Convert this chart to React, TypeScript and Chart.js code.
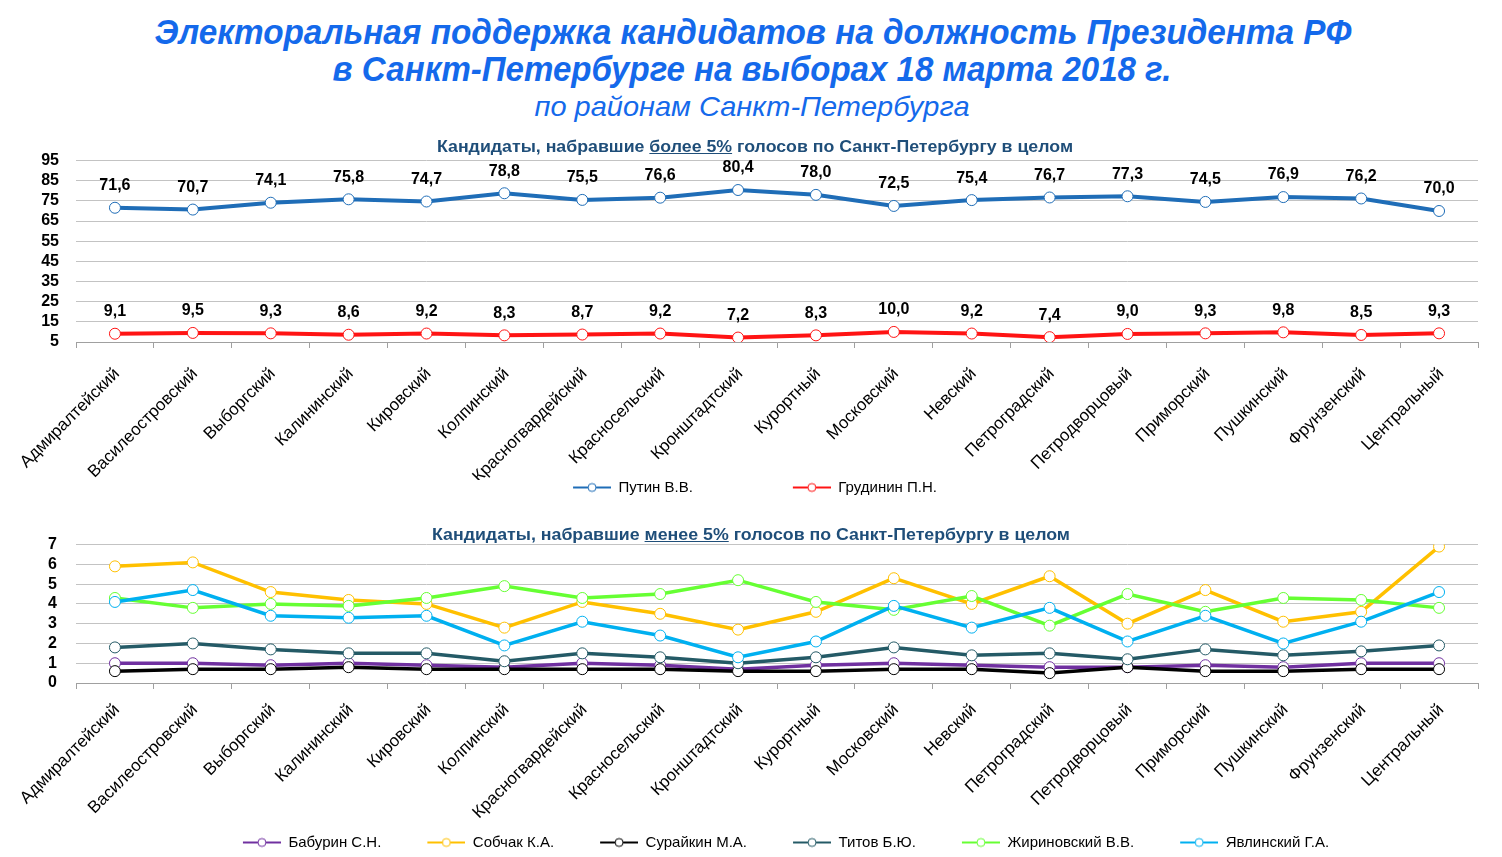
import { useEffect, useRef } from "react";
import { Chart, registerables, type ChartConfiguration, type Plugin } from "chart.js";

Chart.register(...registerables);

const districts = [
  "Адмиралтейский", "Василеостровский", "Выборгский", "Калининский", "Кировский",
  "Колпинский", "Красногвардейский", "Красносельский", "Кронштадтский", "Курортный",
  "Московский", "Невский", "Петроградский", "Петродворцовый", "Приморский",
  "Пушкинский", "Фрунзенский", "Центральный",
];

// кандидаты > 5%
const putin = [71.6, 70.7, 74.1, 75.8, 74.7, 78.8, 75.5, 76.6, 80.4, 78.0, 72.5, 75.4, 76.7, 77.3, 74.5, 76.9, 76.2, 70.0];
const grudinin = [9.1, 9.5, 9.3, 8.6, 9.2, 8.3, 8.7, 9.2, 7.2, 8.3, 10.0, 9.2, 7.4, 9.0, 9.3, 9.8, 8.5, 9.3];

// кандидаты < 5%
const baburin = [1.0, 1.0, 0.9, 1.0, 0.9, 0.8, 1.0, 0.9, 0.7, 0.9, 1.0, 0.9, 0.8, 0.8, 0.9, 0.8, 1.0, 1.0];
const sobchak = [5.9, 6.1, 4.6, 4.2, 4.0, 2.8, 4.1, 3.5, 2.7, 3.6, 5.3, 4.0, 5.4, 3.0, 4.7, 3.1, 3.6, 6.9];
const suraykin = [0.6, 0.7, 0.7, 0.8, 0.7, 0.7, 0.7, 0.7, 0.6, 0.6, 0.7, 0.7, 0.5, 0.8, 0.6, 0.6, 0.7, 0.7];
const titov = [1.8, 2.0, 1.7, 1.5, 1.5, 1.1, 1.5, 1.3, 1.0, 1.3, 1.8, 1.4, 1.5, 1.2, 1.7, 1.4, 1.6, 1.9];
const zhirinovsky = [4.3, 3.8, 4.0, 3.9, 4.3, 4.9, 4.3, 4.5, 5.2, 4.1, 3.7, 4.4, 2.9, 4.5, 3.6, 4.3, 4.2, 3.8];
const yavlinsky = [4.1, 4.7, 3.4, 3.3, 3.4, 1.9, 3.1, 2.4, 1.3, 2.1, 3.9, 2.8, 3.8, 2.1, 3.4, 2.0, 3.1, 4.6];

const topSeries = [
  { label: "Путин В.В.", data: putin, color: "#1F6DB7" },
  { label: "Грудинин П.Н.", data: grudinin, color: "#FF1414" },
];
const lowSeries = [
  { label: "Бабурин С.Н.", data: baburin, color: "#7030A0" },
  { label: "Собчак К.А.", data: sobchak, color: "#FFC000" },
  { label: "Сурайкин М.А.", data: suraykin, color: "#000000" },
  { label: "Титов Б.Ю.", data: titov, color: "#245A66" },
  { label: "Жириновский В.В.", data: zhirinovsky, color: "#66FF33" },
  { label: "Явлинский Г.А.", data: yavlinsky, color: "#00B0F0" },
];

const FONT = "'Liberation Sans', Arial, sans-serif";
const GRID = "#C3C3C3";
const AXIS = "#A0A0A0";

// легенда: линия с кружком, слева прозрачный отступ = расстояние между пунктами
function legendMark(color: string, gap: number): HTMLCanvasElement {
  const c = document.createElement("canvas");
  c.width = gap + 38;
  c.height = 12;
  const ctx = c.getContext("2d")!;
  ctx.strokeStyle = color;
  ctx.lineWidth = 2;
  ctx.beginPath();
  ctx.moveTo(gap, 6);
  ctx.lineTo(gap + 38, 6);
  ctx.stroke();
  ctx.fillStyle = "#fff";
  ctx.lineWidth = 1;
  ctx.beginPath();
  ctx.arc(gap + 19, 6, 4, 0, Math.PI * 2);
  ctx.fill();
  ctx.stroke();
  return c;
}

const valueLabels: Plugin<"line"> = {
  id: "valueLabels",
  afterDatasetsDraw(chart) {
    const { ctx } = chart;
    ctx.save();
    ctx.font = `bold 16px ${FONT}`;
    ctx.fillStyle = "#000";
    ctx.textAlign = "center";
    ctx.textBaseline = "middle";
    chart.data.datasets.forEach((ds, i) => {
      chart.getDatasetMeta(i).data.forEach((pt, j) => {
        const v = ds.data[j] as number;
        ctx.fillText(v.toFixed(1).replace(".", ","), pt.x, pt.y - 22);
      });
    });
    ctx.restore();
  },
};

function makeConfig(
  series: { label: string; data: number[]; color: string }[],
  opts: {
    min: number; max: number; step: number; yPad: number; top: number; leftW: number;
    xHeight: number; xPad: number; rightW: number; gap: number; lineW: number; labels: boolean;
  },
): ChartConfiguration<"line"> {
  const n = series.length;
  return {
    type: "line",
    data: {
      labels: districts,
      datasets: series.map((s, i) => ({
        label: s.label,
        data: s.data,
        borderColor: s.color,
        backgroundColor: s.color,
        borderWidth: opts.lineW,
        pointRadius: 5.5,
        pointBackgroundColor: "#fff",
        pointBorderColor: s.color,
        pointBorderWidth: 1,
        tension: 0,
        fill: false,
        order: n - i,
      })),
    },
    options: {
      animation: false,
      responsive: true,
      maintainAspectRatio: false,
      layout: { padding: { top: opts.top, left: 0, right: 0, bottom: 0 } },
      plugins: {
        tooltip: { enabled: false },
        legend: {
          position: "bottom",
          labels: {
            font: { family: FONT, size: 15 },
            color: "#000",
            usePointStyle: true,
            pointStyleWidth: opts.gap + 38,
            padding: 0,
            sort: (a, b) => (a.datasetIndex ?? 0) - (b.datasetIndex ?? 0),
            generateLabels: (chart) =>
              Chart.defaults.plugins.legend.labels
                .generateLabels(chart)
                .map((l) => ({ ...l, pointStyle: legendMark(l.strokeStyle as string, opts.gap) })),
          },
        },
      },
      scales: {
        x: {
          offset: true,
          grid: { offset: true, drawOnChartArea: false, drawTicks: true, tickLength: 6, tickColor: AXIS },
          border: { color: AXIS, width: 1 },
          ticks: {
            autoSkip: false,
            maxRotation: 45,
            minRotation: 45,
            font: { family: FONT, size: 17 },
            color: "#000",
            padding: opts.xPad,
            labelOffset: 2,
          },
          afterFit: (s) => {
            s.height = opts.xHeight;
          },
        },
        y: {
          min: opts.min,
          max: opts.max,
          ticks: {
            autoSkip: false,
            stepSize: opts.step,
            font: { family: FONT, size: 16, weight: "bold" },
            color: "#000",
            padding: opts.yPad,
          },
          grid: { color: GRID, drawTicks: false },
          border: { display: false },
          afterFit: (s) => {
            s.width = opts.leftW;
          },
        },
        yR: {
          position: "right",
          ticks: { display: false },
          grid: { display: false },
          border: { display: false },
          afterFit: (s) => {
            s.width = opts.rightW;
          },
        },
      },
    },
    plugins: opts.labels ? [valueLabels] : [],
  };
}

function LineChart({ config }: { config: ChartConfiguration<"line"> }) {
  const ref = useRef<HTMLCanvasElement>(null);
  useEffect(() => {
    if (!ref.current) return;
    const chart = new Chart(ref.current, config);
    return () => chart.destroy();
  }, [config]);
  return <canvas ref={ref} />;
}

const measureCtx = document.createElement("canvas").getContext("2d")!;

function FitText(props: {
  text: string; font: string; width: number; cx: number; top: number; color: string;
  children?: React.ReactNode;
}) {
  measureCtx.font = props.font;
  const k = props.width / measureCtx.measureText(props.text).width;
  return (
    <div
      style={{
        position: "absolute",
        left: props.cx,
        top: props.top,
        font: props.font,
        lineHeight: 1,
        color: props.color,
        whiteSpace: "pre",
        transform: `translateX(-50%) scaleX(${k})`,
        transformOrigin: "center top",
        zIndex: 2,
      }}
    >
      {props.children ?? props.text}
    </div>
  );
}

// верхний график: холст от x=-92 до 1502, область построения 76..1478
const TOP_LEFT = -92;
const topConfig = makeConfig(topSeries, {
  min: 5, max: 95, step: 10, yPad: 17, top: 9, leftW: 76 - TOP_LEFT, xHeight: 138, xPad: 16, rightW: 24,
  gap: 100, lineW: 4, labels: true,
});
// нижний график: холст от 0 до 1526
const lowConfig = makeConfig(lowSeries, {
  min: 0, max: 7, step: 1, yPad: 19, top: 10, leftW: 76, xHeight: 152, xPad: 11, rightW: 48,
  gap: 46, lineW: 3.5, labels: false,
});

const TITLE_BLUE = "#1469EB";
const SUB_BLUE = "#1F4E79";
const sub1 = "Кандидаты, набравшие более 5% голосов по Санкт-Петербургу в целом";
const sub2 = "Кандидаты, набравшие менее 5% голосов по Санкт-Петербургу в целом";

export default function App() {
  return (
    <div style={{ position: "fixed", inset: 0, overflow: "hidden", background: "#fff" }}>
      <FitText
        text="Электоральная поддержка кандидатов на должность Президента РФ"
        font={`italic bold 35px ${FONT}`}
        width={1197}
        cx={753}
        top={13.5}
        color={TITLE_BLUE}
      />
      <FitText
        text="в Санкт-Петербурге на выборах 18 марта 2018 г."
        font={`italic bold 35px ${FONT}`}
        width={839}
        cx={752}
        top={50.5}
        color={TITLE_BLUE}
      />
      <FitText
        text="по районам Санкт-Петербурга"
        font={`italic 28px ${FONT}`}
        width={435}
        cx={752}
        top={92.5}
        color={TITLE_BLUE}
      />
      <FitText text={sub1} font={`bold 17px ${FONT}`} width={636} cx={755} top={137.8} color={SUB_BLUE}>
        Кандидаты, набравшие <span style={{ textDecoration: "underline" }}>более 5%</span> голосов по Санкт-Петербургу в целом
      </FitText>
      <FitText text={sub2} font={`bold 17px ${FONT}`} width={638} cx={751} top={525.8} color={SUB_BLUE}>
        Кандидаты, набравшие <span style={{ textDecoration: "underline" }}>менее 5%</span> голосов по Санкт-Петербургу в целом
      </FitText>
      <div style={{ position: "absolute", left: TOP_LEFT, top: 134, width: 1502 - TOP_LEFT, height: 371 }}>
        <LineChart config={topConfig} />
      </div>
      <div style={{ position: "absolute", left: 0, top: 516, width: 1526, height: 344 }}>
        <LineChart config={lowConfig} />
      </div>
    </div>
  );
}
